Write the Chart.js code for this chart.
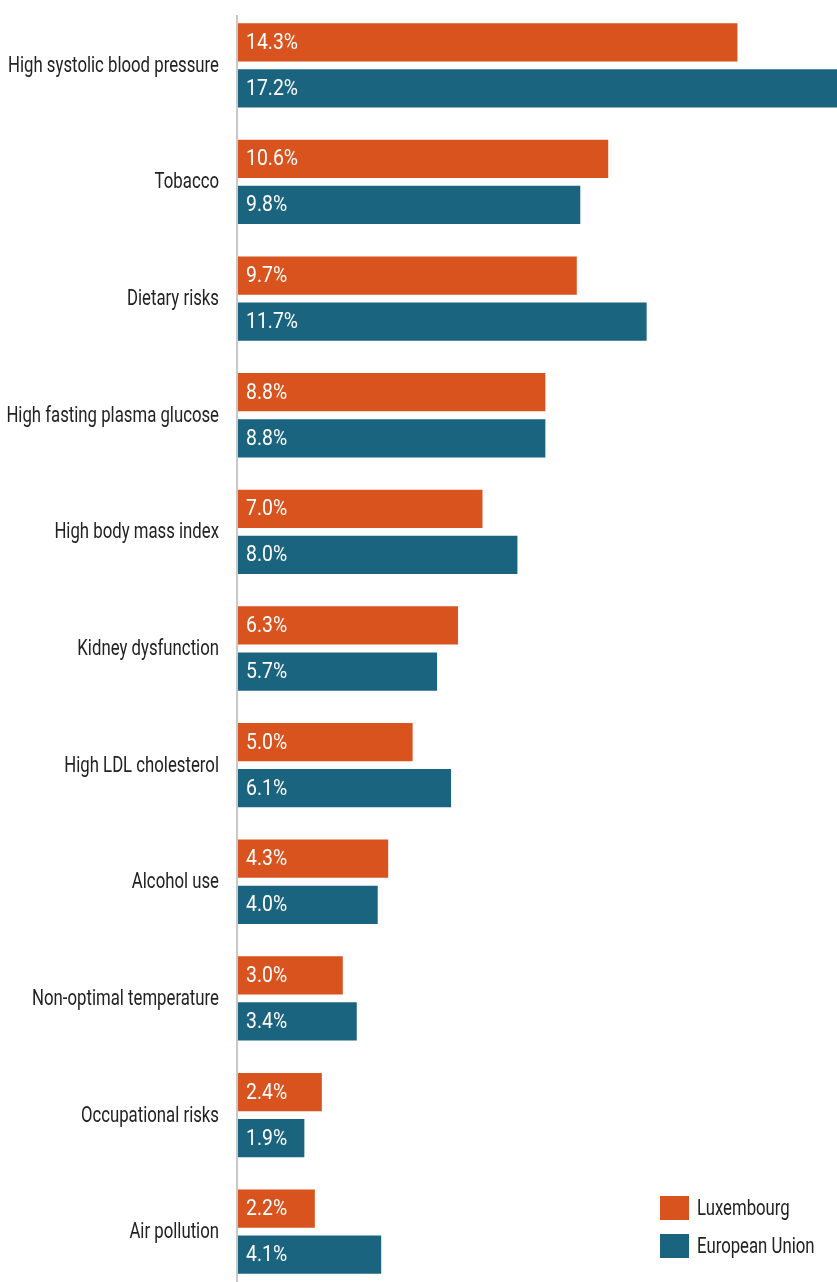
<!DOCTYPE html>
<html>
<head>
<meta charset="utf-8">
<script src="https://cdn.jsdelivr.net/npm/chart.js@4/dist/chart.umd.min.js"></script>
<style>
  html, body { margin: 0; padding: 0; background: #fff; overflow: hidden; }
</style>
</head>
<body>
<canvas id="riskChart" width="837" height="1290"></canvas>
<script>
// Risk factors and shares of deaths (%)
const categories = [
    'High systolic blood pressure',
    'Tobacco',
    'Dietary risks',
    'High fasting plasma glucose',
    'High body mass index',
    'Kidney dysfunction',
    'High LDL cholesterol',
    'Alcohol use',
    'Non-optimal temperature',
    'Occupational risks',
    'Air pollution'
];
const luxembourg = [14.3, 10.6, 9.7, 8.8, 7.0, 6.3, 5.0, 4.3, 3.0, 2.4, 2.2];
const europeanUnion = [17.2, 9.8, 11.7, 8.8, 8.0, 5.7, 6.1, 4.0, 3.4, 1.9, 4.1];

const seriesNames = ['Luxembourg', 'European Union'];
const seriesColors = ['#D9531E', '#1B6480'];

const FONT = '22px Roboto, "DejaVu Sans Condensed", sans-serif';

// No condensed face is installed, so squeeze the text horizontally
function condensedText(ctx, text, x, y, align, squeeze) {
    const w = ctx.measureText(text).width * squeeze;
    const left = align === 'right' ? x - w : x;
    ctx.save();
    ctx.translate(left, y);
    ctx.scale(squeeze, 1);
    ctx.fillText(text, 0, 0);
    ctx.restore();
}

// Category labels, axis line, value labels and the legend
const decorations = {
    id: 'decorations',
    afterDatasetsDraw(chart) {
        const ctx = chart.ctx;
        const area = chart.chartArea;
        const yScale = chart.scales.y;
        ctx.save();
        ctx.font = FONT;
        ctx.textAlign = 'left';
        ctx.textBaseline = 'middle';
        const textSqueeze = 211 / ctx.measureText(categories[0]).width;
        const numSqueeze = 52 / ctx.measureText('14.3%').width;

        // axis line
        ctx.strokeStyle = '#c8c8c8';
        ctx.lineWidth = 2;
        ctx.beginPath();
        ctx.moveTo(area.left - 1, 15);
        ctx.lineTo(area.left - 1, chart.height);
        ctx.stroke();

        // category labels
        ctx.fillStyle = '#222';
        categories.forEach((c, i) => {
            condensedText(ctx, c, area.left - 19, yScale.getPixelForValue(i) + 1, 'right', textSqueeze);
        });

        // values inside bars
        ctx.fillStyle = '#fff';
        chart.data.datasets.forEach((ds, i) => {
            chart.getDatasetMeta(i).data.forEach((bar, j) => {
                condensedText(ctx, ds.data[j].toFixed(1) + '%', bar.base + 8, bar.y + 1, 'left', numSqueeze);
            });
        });

        // legend
        seriesNames.forEach((name, i) => {
            const top = 1196 + i * 38;
            ctx.fillStyle = seriesColors[i];
            ctx.fillRect(660, top, 29, 24);
            ctx.fillStyle = '#222';
            condensedText(ctx, name, 697, top + 13, 'left', textSqueeze);
        });
        ctx.restore();
    }
};

new Chart(document.getElementById('riskChart'), {
    type: 'bar',
    data: {
        labels: categories,
        datasets: [
            { label: seriesNames[0], data: luxembourg, backgroundColor: seriesColors[0] },
            { label: seriesNames[1], data: europeanUnion, backgroundColor: seriesColors[1] }
        ]
    },
    options: {
        indexAxis: 'y',
        responsive: false,
        animation: false,
        categoryPercentage: 0.79,
        barPercentage: 0.83,
        layout: { padding: { top: 7, right: 0, bottom: 0, left: 0 } },
        plugins: {
            legend: { display: false },
            tooltip: { enabled: false }
        },
        scales: {
            x: { display: false, min: 0, max: 17.15 },
            y: {
                afterFit: (scale) => { scale.width = 238; },
                grid: { display: false, drawTicks: false },
                border: { display: false },
                ticks: { display: false }
            }
        }
    },
    plugins: [decorations]
});
</script>
</body>
</html>
